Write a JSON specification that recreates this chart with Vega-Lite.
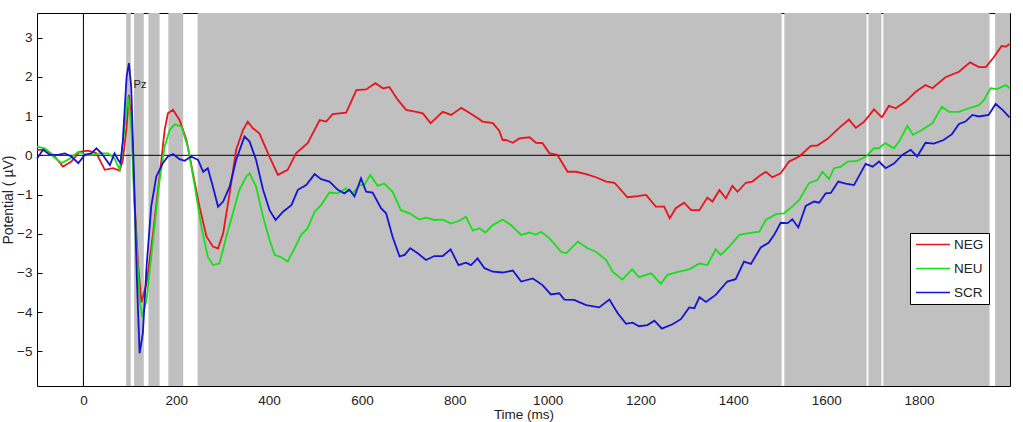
{
  "$schema": "https://vega.github.io/schema/vega-lite/v6.json",
  "width": 973,
  "height": 373,
  "autosize": "none",
  "padding": {"left": 37, "top": 13, "right": 13, "bottom": 36},
  "background": "white",
  "config": {
    "view": {"stroke": "black", "strokeWidth": 1},
    "font": "Liberation Sans",
    "axis": {"grid": false, "domain": false, "tickColor": "black", "tickSize": -5, "labelFontSize": 13.5, "labelColor": "#222", "labelFont": "Liberation Sans", "titleFont": "Liberation Sans", "titleFontSize": 14, "titleFontWeight": "normal", "titleColor": "#222"}
  },
  "datasets": {
    "bands": [
      {"a": 92, "b": 102}, {"a": 109, "b": 130}, {"a": 140, "b": 164}, {"a": 183, "b": 215},
      {"a": 246, "b": 1504}, {"a": 1510, "b": 1687}, {"a": 1691, "b": 1719}, {"a": 1723, "b": 1952}, {"a": 1964, "b": 1996}
    ],
    "erp": [
      {"c":"NEG","t":-100,"v":0.14},{"c":"NEG","t":-80,"v":0.14},{"c":"NEG","t":-62,"v":-0.03},{"c":"NEG","t":-44,"v":-0.29},{"c":"NEG","t":-26,"v":-0.16},{"c":"NEG","t":-8,"v":0.09},{"c":"NEG","t":10,"v":0.12},{"c":"NEG","t":28,"v":0.05},{"c":"NEG","t":46,"v":-0.37},{"c":"NEG","t":64,"v":-0.33},{"c":"NEG","t":78,"v":-0.39},{"c":"NEG","t":85,"v":-0.12},{"c":"NEG","t":93,"v":0.73},{"c":"NEG","t":98,"v":1.54},{"c":"NEG","t":105,"v":0.56},{"c":"NEG","t":110,"v":-1.14},{"c":"NEG","t":118,"v":-2.84},{"c":"NEG","t":125,"v":-3.75},{"c":"NEG","t":136,"v":-3.27},{"c":"NEG","t":150,"v":-1.99},{"c":"NEG","t":164,"v":-0.54},{"c":"NEG","t":175,"v":0.65},{"c":"NEG","t":182,"v":1.07},{"c":"NEG","t":193,"v":1.16},{"c":"NEG","t":207,"v":0.9},{"c":"NEG","t":222,"v":0.39},{"c":"NEG","t":236,"v":-0.46},{"c":"NEG","t":250,"v":-1.31},{"c":"NEG","t":265,"v":-2.07},{"c":"NEG","t":279,"v":-2.33},{"c":"NEG","t":290,"v":-2.38},{"c":"NEG","t":301,"v":-1.99},{"c":"NEG","t":315,"v":-0.97},{"c":"NEG","t":329,"v":0.14},{"c":"NEG","t":344,"v":0.65},{"c":"NEG","t":354,"v":0.86},{"c":"NEG","t":365,"v":0.69},{"c":"NEG","t":379,"v":0.56},{"c":"NEG","t":401,"v":-0.04},{"c":"NEG","t":419,"v":-0.5},{"c":"NEG","t":440,"v":-0.37},{"c":"NEG","t":458,"v":0.05},{"c":"NEG","t":483,"v":0.31},{"c":"NEG","t":509,"v":0.9},{"c":"NEG","t":523,"v":0.86},{"c":"NEG","t":537,"v":1.05},{"c":"NEG","t":566,"v":1.09},{"c":"NEG","t":588,"v":1.66},{"c":"NEG","t":609,"v":1.68},{"c":"NEG","t":629,"v":1.84},{"c":"NEG","t":645,"v":1.71},{"c":"NEG","t":659,"v":1.74},{"c":"NEG","t":677,"v":1.42},{"c":"NEG","t":695,"v":1.16},{"c":"NEG","t":717,"v":1.11},{"c":"NEG","t":731,"v":1.07},{"c":"NEG","t":748,"v":0.82},{"c":"NEG","t":774,"v":1.11},{"c":"NEG","t":792,"v":1.03},{"c":"NEG","t":814,"v":1.21},{"c":"NEG","t":839,"v":1.03},{"c":"NEG","t":860,"v":0.86},{"c":"NEG","t":882,"v":0.82},{"c":"NEG","t":896,"v":0.62},{"c":"NEG","t":903,"v":0.39},{"c":"NEG","t":910,"v":0.39},{"c":"NEG","t":925,"v":0.32},{"c":"NEG","t":939,"v":0.43},{"c":"NEG","t":961,"v":0.46},{"c":"NEG","t":975,"v":0.32},{"c":"NEG","t":989,"v":0.31},{"c":"NEG","t":1004,"v":0.05},{"c":"NEG","t":1021,"v":0.01},{"c":"NEG","t":1043,"v":-0.42},{"c":"NEG","t":1061,"v":-0.42},{"c":"NEG","t":1083,"v":-0.48},{"c":"NEG","t":1104,"v":-0.56},{"c":"NEG","t":1126,"v":-0.67},{"c":"NEG","t":1144,"v":-0.7},{"c":"NEG","t":1172,"v":-1.07},{"c":"NEG","t":1194,"v":-1.04},{"c":"NEG","t":1212,"v":-1.01},{"c":"NEG","t":1233,"v":-1.31},{"c":"NEG","t":1251,"v":-1.31},{"c":"NEG","t":1263,"v":-1.61},{"c":"NEG","t":1276,"v":-1.35},{"c":"NEG","t":1294,"v":-1.21},{"c":"NEG","t":1309,"v":-1.4},{"c":"NEG","t":1327,"v":-1.4},{"c":"NEG","t":1344,"v":-1.08},{"c":"NEG","t":1355,"v":-1.18},{"c":"NEG","t":1370,"v":-0.89},{"c":"NEG","t":1384,"v":-1.1},{"c":"NEG","t":1398,"v":-0.78},{"c":"NEG","t":1409,"v":-0.93},{"c":"NEG","t":1427,"v":-0.7},{"c":"NEG","t":1441,"v":-0.67},{"c":"NEG","t":1456,"v":-0.53},{"c":"NEG","t":1470,"v":-0.42},{"c":"NEG","t":1484,"v":-0.56},{"c":"NEG","t":1502,"v":-0.46},{"c":"NEG","t":1520,"v":-0.16},{"c":"NEG","t":1542,"v":-0.03},{"c":"NEG","t":1567,"v":0.24},{"c":"NEG","t":1581,"v":0.25},{"c":"NEG","t":1603,"v":0.42},{"c":"NEG","t":1628,"v":0.7},{"c":"NEG","t":1649,"v":0.91},{"c":"NEG","t":1664,"v":0.7},{"c":"NEG","t":1682,"v":0.86},{"c":"NEG","t":1703,"v":1.17},{"c":"NEG","t":1720,"v":0.97},{"c":"NEG","t":1735,"v":1.26},{"c":"NEG","t":1750,"v":1.2},{"c":"NEG","t":1771,"v":1.37},{"c":"NEG","t":1793,"v":1.62},{"c":"NEG","t":1814,"v":1.79},{"c":"NEG","t":1829,"v":1.71},{"c":"NEG","t":1857,"v":1.99},{"c":"NEG","t":1886,"v":2.13},{"c":"NEG","t":1910,"v":2.37},{"c":"NEG","t":1929,"v":2.25},{"c":"NEG","t":1944,"v":2.25},{"c":"NEG","t":1961,"v":2.5},{"c":"NEG","t":1978,"v":2.79},{"c":"NEG","t":1987,"v":2.77},{"c":"NEG","t":1995,"v":2.84},
      {"c":"NEU","t":-100,"v":0.22},{"c":"NEU","t":-83,"v":0.18},{"c":"NEU","t":-65,"v":-0.03},{"c":"NEU","t":-47,"v":-0.2},{"c":"NEU","t":-29,"v":-0.08},{"c":"NEU","t":-11,"v":0.09},{"c":"NEU","t":6,"v":0.01},{"c":"NEU","t":21,"v":0.01},{"c":"NEU","t":35,"v":0.05},{"c":"NEU","t":53,"v":0.05},{"c":"NEU","t":67,"v":-0.08},{"c":"NEU","t":78,"v":-0.37},{"c":"NEU","t":85,"v":0.31},{"c":"NEU","t":96,"v":1.5},{"c":"NEU","t":103,"v":0.73},{"c":"NEU","t":110,"v":-1.31},{"c":"NEU","t":121,"v":-3.69},{"c":"NEU","t":127,"v":-4.12},{"c":"NEU","t":136,"v":-3.69},{"c":"NEU","t":150,"v":-2.16},{"c":"NEU","t":164,"v":-0.63},{"c":"NEU","t":175,"v":0.22},{"c":"NEU","t":186,"v":0.65},{"c":"NEU","t":197,"v":0.79},{"c":"NEU","t":211,"v":0.73},{"c":"NEU","t":225,"v":0.22},{"c":"NEU","t":240,"v":-0.8},{"c":"NEU","t":254,"v":-1.82},{"c":"NEU","t":268,"v":-2.59},{"c":"NEU","t":279,"v":-2.8},{"c":"NEU","t":293,"v":-2.76},{"c":"NEU","t":308,"v":-2.07},{"c":"NEU","t":322,"v":-1.48},{"c":"NEU","t":336,"v":-0.88},{"c":"NEU","t":351,"v":-0.54},{"c":"NEU","t":358,"v":-0.46},{"c":"NEU","t":372,"v":-0.8},{"c":"NEU","t":387,"v":-1.57},{"c":"NEU","t":401,"v":-2.16},{"c":"NEU","t":412,"v":-2.54},{"c":"NEU","t":426,"v":-2.6},{"c":"NEU","t":440,"v":-2.71},{"c":"NEU","t":455,"v":-2.37},{"c":"NEU","t":469,"v":-2.03},{"c":"NEU","t":483,"v":-1.86},{"c":"NEU","t":498,"v":-1.44},{"c":"NEU","t":512,"v":-1.27},{"c":"NEU","t":530,"v":-0.95},{"c":"NEU","t":548,"v":-0.97},{"c":"NEU","t":566,"v":-0.84},{"c":"NEU","t":580,"v":-0.97},{"c":"NEU","t":595,"v":-0.76},{"c":"NEU","t":605,"v":-0.76},{"c":"NEU","t":618,"v":-0.5},{"c":"NEU","t":634,"v":-0.78},{"c":"NEU","t":648,"v":-0.72},{"c":"NEU","t":666,"v":-0.93},{"c":"NEU","t":684,"v":-1.4},{"c":"NEU","t":702,"v":-1.48},{"c":"NEU","t":724,"v":-1.64},{"c":"NEU","t":738,"v":-1.59},{"c":"NEU","t":756,"v":-1.65},{"c":"NEU","t":774,"v":-1.64},{"c":"NEU","t":792,"v":-1.74},{"c":"NEU","t":810,"v":-1.67},{"c":"NEU","t":824,"v":-1.57},{"c":"NEU","t":839,"v":-1.92},{"c":"NEU","t":853,"v":-1.86},{"c":"NEU","t":866,"v":-1.97},{"c":"NEU","t":882,"v":-1.78},{"c":"NEU","t":903,"v":-1.64},{"c":"NEU","t":921,"v":-1.78},{"c":"NEU","t":943,"v":-2.03},{"c":"NEU","t":961,"v":-1.97},{"c":"NEU","t":975,"v":-2.03},{"c":"NEU","t":986,"v":-1.95},{"c":"NEU","t":1004,"v":-2.12},{"c":"NEU","t":1029,"v":-2.46},{"c":"NEU","t":1040,"v":-2.5},{"c":"NEU","t":1065,"v":-2.2},{"c":"NEU","t":1086,"v":-2.37},{"c":"NEU","t":1104,"v":-2.46},{"c":"NEU","t":1126,"v":-2.67},{"c":"NEU","t":1140,"v":-2.97},{"c":"NEU","t":1161,"v":-3.17},{"c":"NEU","t":1182,"v":-2.91},{"c":"NEU","t":1197,"v":-3.11},{"c":"NEU","t":1223,"v":-3.01},{"c":"NEU","t":1244,"v":-3.28},{"c":"NEU","t":1258,"v":-3.05},{"c":"NEU","t":1283,"v":-2.97},{"c":"NEU","t":1305,"v":-2.91},{"c":"NEU","t":1327,"v":-2.76},{"c":"NEU","t":1344,"v":-2.8},{"c":"NEU","t":1362,"v":-2.4},{"c":"NEU","t":1373,"v":-2.54},{"c":"NEU","t":1391,"v":-2.33},{"c":"NEU","t":1413,"v":-2.03},{"c":"NEU","t":1430,"v":-1.99},{"c":"NEU","t":1456,"v":-1.95},{"c":"NEU","t":1470,"v":-1.65},{"c":"NEU","t":1492,"v":-1.5},{"c":"NEU","t":1509,"v":-1.48},{"c":"NEU","t":1527,"v":-1.31},{"c":"NEU","t":1542,"v":-1.14},{"c":"NEU","t":1563,"v":-0.71},{"c":"NEU","t":1581,"v":-0.63},{"c":"NEU","t":1592,"v":-0.42},{"c":"NEU","t":1606,"v":-0.61},{"c":"NEU","t":1617,"v":-0.33},{"c":"NEU","t":1632,"v":-0.29},{"c":"NEU","t":1646,"v":-0.16},{"c":"NEU","t":1667,"v":-0.14},{"c":"NEU","t":1685,"v":-0.04},{"c":"NEU","t":1703,"v":0.18},{"c":"NEU","t":1714,"v":0.18},{"c":"NEU","t":1727,"v":0.31},{"c":"NEU","t":1746,"v":0.18},{"c":"NEU","t":1757,"v":0.35},{"c":"NEU","t":1775,"v":0.75},{"c":"NEU","t":1787,"v":0.52},{"c":"NEU","t":1807,"v":0.65},{"c":"NEU","t":1829,"v":0.82},{"c":"NEU","t":1849,"v":1.24},{"c":"NEU","t":1865,"v":1.11},{"c":"NEU","t":1886,"v":1.11},{"c":"NEU","t":1908,"v":1.2},{"c":"NEU","t":1929,"v":1.28},{"c":"NEU","t":1940,"v":1.41},{"c":"NEU","t":1954,"v":1.71},{"c":"NEU","t":1968,"v":1.69},{"c":"NEU","t":1987,"v":1.79},{"c":"NEU","t":1995,"v":1.71},
      {"c":"SCR","t":-100,"v":-0.08},{"c":"SCR","t":-87,"v":0.14},{"c":"SCR","t":-72,"v":0.01},{"c":"SCR","t":-55,"v":0.01},{"c":"SCR","t":-40,"v":0.05},{"c":"SCR","t":-26,"v":-0.03},{"c":"SCR","t":-11,"v":-0.2},{"c":"SCR","t":3,"v":0.01},{"c":"SCR","t":17,"v":0.05},{"c":"SCR","t":28,"v":0.18},{"c":"SCR","t":39,"v":0.05},{"c":"SCR","t":57,"v":-0.25},{"c":"SCR","t":67,"v":0.05},{"c":"SCR","t":75,"v":-0.12},{"c":"SCR","t":80,"v":-0.2},{"c":"SCR","t":85,"v":0.39},{"c":"SCR","t":93,"v":2.0},{"c":"SCR","t":98,"v":2.35},{"c":"SCR","t":103,"v":1.75},{"c":"SCR","t":110,"v":-0.97},{"c":"SCR","t":115.5,"v":-3.27},{"c":"SCR","t":121,"v":-5.05},{"c":"SCR","t":128,"v":-4.54},{"c":"SCR","t":136,"v":-2.84},{"c":"SCR","t":146,"v":-1.31},{"c":"SCR","t":157,"v":-0.54},{"c":"SCR","t":171,"v":-0.2},{"c":"SCR","t":182,"v":-0.03},{"c":"SCR","t":193,"v":0.03},{"c":"SCR","t":207,"v":-0.1},{"c":"SCR","t":218,"v":-0.14},{"c":"SCR","t":232,"v":-0.03},{"c":"SCR","t":247,"v":-0.12},{"c":"SCR","t":258,"v":-0.42},{"c":"SCR","t":268,"v":-0.33},{"c":"SCR","t":279,"v":-0.8},{"c":"SCR","t":290,"v":-1.31},{"c":"SCR","t":301,"v":-1.18},{"c":"SCR","t":315,"v":-0.8},{"c":"SCR","t":329,"v":-0.12},{"c":"SCR","t":347,"v":0.48},{"c":"SCR","t":358,"v":0.35},{"c":"SCR","t":372,"v":-0.12},{"c":"SCR","t":387,"v":-0.88},{"c":"SCR","t":401,"v":-1.4},{"c":"SCR","t":414,"v":-1.65},{"c":"SCR","t":430,"v":-1.44},{"c":"SCR","t":448,"v":-1.27},{"c":"SCR","t":462,"v":-0.88},{"c":"SCR","t":480,"v":-0.76},{"c":"SCR","t":498,"v":-0.48},{"c":"SCR","t":512,"v":-0.61},{"c":"SCR","t":530,"v":-0.67},{"c":"SCR","t":548,"v":-0.88},{"c":"SCR","t":562,"v":-0.97},{"c":"SCR","t":573,"v":-0.88},{"c":"SCR","t":584,"v":-1.05},{"c":"SCR","t":598,"v":-0.59},{"c":"SCR","t":609,"v":-0.93},{"c":"SCR","t":623,"v":-0.95},{"c":"SCR","t":641,"v":-1.35},{"c":"SCR","t":652,"v":-1.48},{"c":"SCR","t":666,"v":-2.08},{"c":"SCR","t":681,"v":-2.58},{"c":"SCR","t":692,"v":-2.54},{"c":"SCR","t":704,"v":-2.37},{"c":"SCR","t":720,"v":-2.5},{"c":"SCR","t":738,"v":-2.67},{"c":"SCR","t":756,"v":-2.57},{"c":"SCR","t":774,"v":-2.57},{"c":"SCR","t":791,"v":-2.4},{"c":"SCR","t":808,"v":-2.8},{"c":"SCR","t":824,"v":-2.74},{"c":"SCR","t":835,"v":-2.8},{"c":"SCR","t":849,"v":-2.63},{"c":"SCR","t":864,"v":-2.88},{"c":"SCR","t":882,"v":-2.97},{"c":"SCR","t":903,"v":-2.99},{"c":"SCR","t":925,"v":-2.94},{"c":"SCR","t":943,"v":-3.22},{"c":"SCR","t":968,"v":-3.14},{"c":"SCR","t":989,"v":-3.31},{"c":"SCR","t":1007,"v":-3.55},{"c":"SCR","t":1025,"v":-3.52},{"c":"SCR","t":1036,"v":-3.68},{"c":"SCR","t":1057,"v":-3.69},{"c":"SCR","t":1083,"v":-3.82},{"c":"SCR","t":1111,"v":-3.88},{"c":"SCR","t":1133,"v":-3.68},{"c":"SCR","t":1151,"v":-4.03},{"c":"SCR","t":1169,"v":-4.3},{"c":"SCR","t":1183,"v":-4.27},{"c":"SCR","t":1197,"v":-4.36},{"c":"SCR","t":1215,"v":-4.33},{"c":"SCR","t":1230,"v":-4.22},{"c":"SCR","t":1246,"v":-4.42},{"c":"SCR","t":1269,"v":-4.31},{"c":"SCR","t":1287,"v":-4.18},{"c":"SCR","t":1305,"v":-3.88},{"c":"SCR","t":1316,"v":-3.9},{"c":"SCR","t":1327,"v":-3.62},{"c":"SCR","t":1341,"v":-3.74},{"c":"SCR","t":1362,"v":-3.56},{"c":"SCR","t":1387,"v":-3.22},{"c":"SCR","t":1405,"v":-3.16},{"c":"SCR","t":1423,"v":-2.71},{"c":"SCR","t":1438,"v":-2.77},{"c":"SCR","t":1459,"v":-2.35},{"c":"SCR","t":1476,"v":-2.23},{"c":"SCR","t":1488,"v":-2.03},{"c":"SCR","t":1502,"v":-1.72},{"c":"SCR","t":1517,"v":-1.73},{"c":"SCR","t":1527,"v":-1.63},{"c":"SCR","t":1540,"v":-1.84},{"c":"SCR","t":1556,"v":-1.29},{"c":"SCR","t":1574,"v":-1.18},{"c":"SCR","t":1585,"v":-1.21},{"c":"SCR","t":1599,"v":-0.97},{"c":"SCR","t":1610,"v":-0.96},{"c":"SCR","t":1626,"v":-0.67},{"c":"SCR","t":1642,"v":-0.72},{"c":"SCR","t":1660,"v":-0.76},{"c":"SCR","t":1685,"v":-0.22},{"c":"SCR","t":1700,"v":-0.29},{"c":"SCR","t":1714,"v":-0.16},{"c":"SCR","t":1728,"v":-0.33},{"c":"SCR","t":1746,"v":-0.21},{"c":"SCR","t":1764,"v":0.01},{"c":"SCR","t":1782,"v":0.14},{"c":"SCR","t":1796,"v":-0.03},{"c":"SCR","t":1814,"v":0.32},{"c":"SCR","t":1832,"v":0.3},{"c":"SCR","t":1853,"v":0.39},{"c":"SCR","t":1871,"v":0.54},{"c":"SCR","t":1886,"v":0.8},{"c":"SCR","t":1900,"v":0.86},{"c":"SCR","t":1915,"v":1.03},{"c":"SCR","t":1929,"v":0.99},{"c":"SCR","t":1950,"v":1.03},{"c":"SCR","t":1965,"v":1.31},{"c":"SCR","t":1980,"v":1.16},{"c":"SCR","t":1995,"v":0.97}
    ]
  },
  "layer": [
    {
      "data": {"name": "bands"},
      "mark": {"type": "rect", "fill": "#c0c0c0", "stroke": null},
      "encoding": {
        "x": {"field": "a", "type": "quantitative", "scale": {"domain": [-100, 1996], "nice": false, "zero": false}, "axis": {"orient": "top", "labels": false, "values": [0, 200, 400, 600, 800, 1000, 1200, 1400, 1600, 1800], "title": null}},
        "x2": {"field": "b"}
      }
    },
    {
      "data": {"values": [{"z": 0}]},
      "mark": {"type": "rule", "color": "black", "strokeWidth": 1},
      "encoding": {
        "y": {"field": "z", "type": "quantitative", "scale": {"domain": [-5.885, 3.63], "nice": false, "zero": false}, "axis": {"orient": "right", "labels": false, "values": [-5, -4, -3, -2, -1, 0, 1, 2, 3], "title": null}}
      }
    },
    {
      "data": {"values": [{"z": 0}]},
      "mark": {"type": "rule", "color": "black", "strokeWidth": 1},
      "encoding": {
        "x": {"field": "z", "type": "quantitative", "scale": {"domain": [-100, 1996], "nice": false, "zero": false}, "axis": null}
      }
    },
    {
      "data": {"name": "erp"},
      "mark": {"type": "line", "strokeWidth": 1.8, "interpolate": "linear"},
      "encoding": {
        "x": {"field": "t", "type": "quantitative", "scale": {"domain": [-100, 1996], "nice": false, "zero": false}, "axis": {"orient": "bottom", "format": "d", "values": [0, 200, 400, 600, 800, 1000, 1200, 1400, 1600, 1800], "title": "Time (ms)", "labelPadding": 12, "titlePadding": 1, "titleFontSize": 13.5}},
        "y": {"field": "v", "type": "quantitative", "scale": {"domain": [-5.885, 3.63], "nice": false, "zero": false}, "axis": {"orient": "left", "format": "d", "values": [-5, -4, -3, -2, -1, 0, 1, 2, 3], "title": "Potential ( µV)", "labelPadding": 10, "titlePadding": 1}},
        "color": {"field": "c", "type": "nominal", "scale": {"domain": ["NEG", "NEU", "SCR"], "range": ["#e8141e", "#18e018", "#1414d2"]},
          "legend": {"title": null, "orient": "none", "legendX": 873, "legendY": 220, "strokeColor": "black", "fillColor": "white", "padding": 5, "symbolType": "stroke", "symbolSize": 1156, "symbolStrokeWidth": 1.5, "clipHeight": 13, "rowPadding": 10, "labelFontSize": 13.5, "labelFont": "Liberation Sans", "labelColor": "#222", "labelOffset": 3}}
      }
    },
    {
      "data": {"values": [{"t": 108, "v": 1.79, "s": "Pz"}]},
      "mark": {"type": "text", "align": "left", "baseline": "middle", "fontSize": 11, "font": "Liberation Sans", "color": "#222"},
      "encoding": {
        "x": {"field": "t", "type": "quantitative", "scale": {"domain": [-100, 1996], "nice": false, "zero": false}, "axis": null},
        "y": {"field": "v", "type": "quantitative", "scale": {"domain": [-5.885, 3.63], "nice": false, "zero": false}, "axis": null},
        "text": {"field": "s"}
      }
    }
  ],
  "resolve": {"axis": {"x": "independent", "y": "independent"}}
}
